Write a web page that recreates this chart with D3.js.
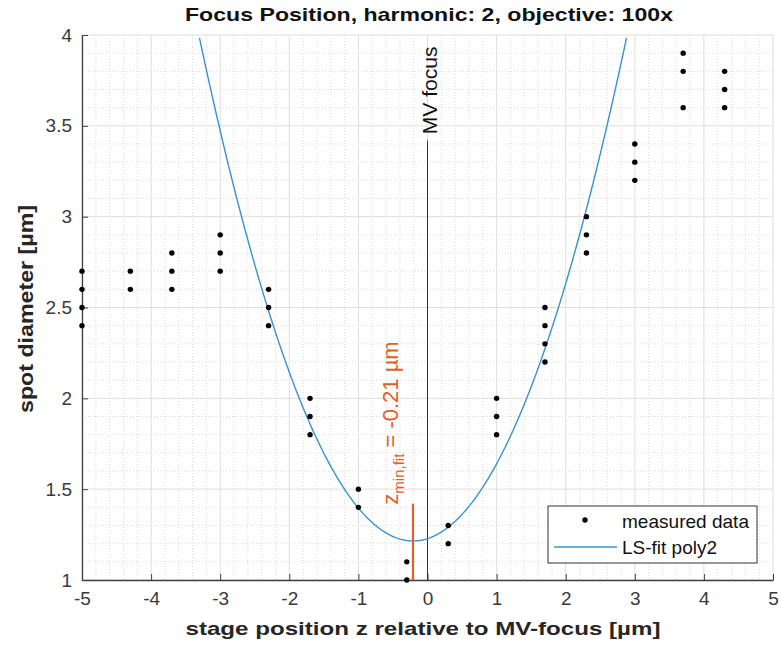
<!DOCTYPE html>
<html><head><meta charset="utf-8">
<script src="https://cdn.jsdelivr.net/npm/d3@7"></script>
<style>body{margin:0;background:#fff}svg{display:block;font-family:"Liberation Sans",Arial,sans-serif}</style>
</head><body><svg id="c" width="781" height="651"></svg>
<script>
// data
const xPositions = [-5, -4.3, -3.7, -3, -2.3, -1.7, -1, -0.3, 0.3, 1, 1.7, 2.3, 3, 3.7, 4.3];
const diameters = [
  [2.7, 2.6, 2.5, 2.4],
  [2.7, 2.6],
  [2.8, 2.7, 2.6],
  [2.9, 2.8, 2.7],
  [2.6, 2.5, 2.4],
  [2.0, 1.9, 1.8],
  [1.5, 1.4],
  [1.1, 1.0],
  [1.3, 1.2],
  [2.0, 1.9, 1.8],
  [2.5, 2.4, 2.3, 2.2],
  [3.0, 2.9, 2.8],
  [3.4, 3.3, 3.2],
  [3.9, 3.8, 3.6],
  [3.8, 3.7, 3.6]
];
// poly2 fit: y = a*(z - zMin)^2 + yMin
const fitCoeffs = {a: 0.29, zMin: -0.21, yMin: 1.215};
const xTicks = [-5, -4, -3, -2, -1, 0, 1, 2, 3, 4, 5];
const yTicks = [1, 1.5, 2, 2.5, 3, 3.5, 4];
const mvFocusTop = 3.42;
const zMinLineTop = 1.42;

const svg = d3.select("#c");
const L = 82, R = 773, T = 35, B = 580;
const x = d3.scaleLinear().domain([-5, 5]).range([L, R]);
const y = d3.scaleLinear().domain([1, 4]).range([B, T]);

// minor grid
const g = svg.append("g");
const minorX = d3.range(-5, 5.001, 0.2).filter(v => Math.abs(v - Math.round(v)) > 1e-6);
const minorY = d3.range(1, 4.001, 0.1).filter(v => Math.abs(v*2 - Math.round(v*2)) > 1e-6);
g.selectAll(".mx").data(minorX).join("line")
  .attr("x1", d => x(d)).attr("x2", d => x(d)).attr("y1", T).attr("y2", B)
  .attr("stroke", "#d0d0d0").attr("stroke-width", 0.8).attr("stroke-dasharray", "1,2");
g.selectAll(".my").data(minorY).join("line")
  .attr("y1", d => y(d)).attr("y2", d => y(d)).attr("x1", L).attr("x2", R)
  .attr("stroke", "#d0d0d0").attr("stroke-width", 0.8).attr("stroke-dasharray", "1,2");
// major grid
g.selectAll(".Mx").data(xTicks).join("line")
  .attr("x1", d => x(d)).attr("x2", d => x(d)).attr("y1", T).attr("y2", B)
  .attr("stroke", "#dedede").attr("stroke-width", 1);
g.selectAll(".My").data(yTicks).join("line")
  .attr("y1", d => y(d)).attr("y2", d => y(d)).attr("x1", L).attr("x2", R)
  .attr("stroke", "#dedede").attr("stroke-width", 1);

// axes
const xAxis = d3.axisBottom(x).tickValues(xTicks).tickSizeInner(-6).tickSizeOuter(0).tickPadding(12).tickFormat(d => String(d));
const yAxis = d3.axisLeft(y).tickValues(yTicks).tickSizeInner(-6).tickSizeOuter(0).tickPadding(10).tickFormat(d => String(d));
const gx = svg.append("g").attr("transform", `translate(0,${B})`).call(xAxis);
const gy = svg.append("g").attr("transform", `translate(${L},0)`).call(yAxis);
[gx, gy].forEach(a => {
  a.select(".domain").attr("stroke", "#404040").attr("stroke-width", 1.3);
  a.selectAll(".tick line").attr("stroke", "#404040");
  a.selectAll(".tick text").attr("fill", "#3a3a3a").style("font-size", "19px").style("font-family", "Liberation Sans, Arial, sans-serif");
});
gx.selectAll(".tick text").attr("dy", "0.71em");

// MV focus line
svg.append("line").attr("x1", x(0)).attr("x2", x(0)).attr("y1", y(1)).attr("y2", y(mvFocusTop))
  .attr("stroke", "#333").attr("stroke-width", 1);
svg.append("text").attr("transform", `translate(${x(0) + 9},${y(mvFocusTop) - 6}) rotate(-90)`)
  .attr("font-size", 20).attr("fill", "#111").attr("textLength", 88).attr("lengthAdjust", "spacingAndGlyphs").text("MV focus");

// fit curve
const zs = d3.range(-5, 5.0001, 0.02);
const curve = zs.map(z => [z, fitCoeffs.a * (z - fitCoeffs.zMin) ** 2 + fitCoeffs.yMin]).filter(p => p[1] <= 4.0);
svg.append("path").datum(curve)
  .attr("d", d3.line().x(d => x(d[0])).y(d => y(d[1])))
  .attr("fill", "none").attr("stroke", "#3a93cc").attr("stroke-width", 1.4);

// zmin line
const orange = "#e0602a";
svg.append("line").attr("x1", x(fitCoeffs.zMin)).attr("x2", x(fitCoeffs.zMin)).attr("y1", y(1)).attr("y2", y(zMinLineTop))
  .attr("stroke", orange).attr("stroke-width", 2.2);
const zt = svg.append("text").attr("transform", `translate(${x(fitCoeffs.zMin) - 15},${y(zMinLineTop) + 1}) rotate(-90)`)
  .attr("font-size", 22).attr("fill", orange);
zt.append("tspan").text("z");
zt.append("tspan").attr("font-size", 15).attr("dy", 6).text("min,fit");
zt.append("tspan").attr("dy", -6).text(" = -0.21 µm");

// points
const pts = [];
xPositions.forEach((xv, i) => diameters[i].forEach(v => pts.push([xv, v])));
svg.append("g").selectAll("circle").data(pts).join("circle")
  .attr("cx", d => x(d[0])).attr("cy", d => y(d[1])).attr("r", 2.7).attr("fill", "#000");

// legend
const lg = svg.append("g");
lg.append("rect").attr("x", 548).attr("y", 506).attr("width", 209).attr("height", 57)
  .attr("fill", "#fff").attr("stroke", "#333").attr("stroke-width", 1);
lg.append("circle").attr("cx", 585).attr("cy", 520).attr("r", 2.7).attr("fill", "#000");
lg.append("line").attr("x1", 554).attr("x2", 617).attr("y1", 547).attr("y2", 547).attr("stroke", "#3a93cc").attr("stroke-width", 1.4);
lg.append("text").attr("x", 622).attr("y", 528).attr("font-size", 19).attr("fill", "#111")
  .attr("textLength", 127).attr("lengthAdjust", "spacingAndGlyphs").text("measured data");
lg.append("text").attr("x", 622).attr("y", 554).attr("font-size", 19).attr("fill", "#111")
  .attr("textLength", 95).attr("lengthAdjust", "spacingAndGlyphs").text("LS-fit poly2");

// titles
svg.append("text").attr("x", 429).attr("y", 21).attr("text-anchor", "middle")
  .attr("font-size", 19).attr("font-weight", "bold").attr("fill", "#111")
  .attr("textLength", 488).attr("lengthAdjust", "spacingAndGlyphs").text("Focus Position, harmonic: 2, objective: 100x");
svg.append("text").attr("x", 423).attr("y", 635).attr("text-anchor", "middle")
  .attr("font-size", 19).attr("font-weight", "bold").attr("fill", "#262626")
  .attr("textLength", 475).attr("lengthAdjust", "spacingAndGlyphs").text("stage position z relative to MV-focus [µm]");
svg.append("text").attr("transform", `translate(33,309) rotate(-90)`).attr("text-anchor", "middle")
  .attr("font-size", 20).attr("font-weight", "bold").attr("fill", "#262626")
  .attr("textLength", 208).attr("lengthAdjust", "spacingAndGlyphs").text("spot diameter [µm]");
</script></body></html>
